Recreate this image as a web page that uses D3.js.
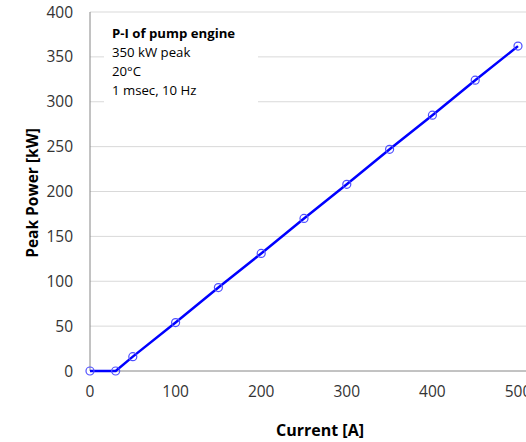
<!DOCTYPE html>
<html>
<head>
<meta charset="utf-8">
<script src="https://cdn.jsdelivr.net/npm/d3@7"></script>
<style>
  html, body { margin: 0; padding: 0; background: #fff; }
  svg { display: block; font-family: "Open Sans", "Noto Sans", sans-serif; }
</style>
</head>
<body>
<svg id="chart" width="526" height="442"></svg>
<script>
// Pump engine peak power versus drive current
const currents = [0, 30, 50, 100, 150, 200, 250, 300, 350, 400, 450, 500];
const peakPower = [0, 0, 16, 54, 93, 131, 170, 208, 247, 285, 324, 362];
const xTicks = [0, 100, 200, 300, 400, 500];
const yTicks = [0, 50, 100, 150, 200, 250, 300, 350, 400];
const noteLines = ["P-I of pump engine", "350 kW peak", "20°C", "1 msec, 10 Hz"];

const svg = d3.select("#chart");
const x = d3.scaleLinear().domain([0, 500]).range([90, 518]);
const y = d3.scaleLinear().domain([0, 400]).range([371, 12]);

// horizontal gridlines
svg.append("g").selectAll("line")
  .data(yTicks.filter(d => d > 0))
  .join("line")
  .attr("x1", x(0)).attr("x2", 526)
  .attr("y1", d => y(d)).attr("y2", d => y(d))
  .attr("stroke", "#d9d9d9").attr("stroke-width", 1);

// note box with white background
const note = svg.append("g");
note.append("rect")
  .attr("x", 104).attr("y", 16).attr("width", 154).attr("height", 88)
  .attr("fill", "#fff");
note.selectAll("text")
  .data(noteLines)
  .join("text")
  .attr("x", 112)
  .attr("y", (d, i) => 37.5 + i * 19.2)
  .attr("font-size", 13.2)
  .attr("font-weight", (d, i) => i === 0 ? "bold" : "normal")
  .attr("fill", "#000")
  .text(d => d);

// axes lines
svg.append("line")
  .attr("x1", x(0)).attr("x2", x(0)).attr("y1", y(400)).attr("y2", y(0))
  .attr("stroke", "#868686");
svg.append("line")
  .attr("x1", x(0)).attr("x2", 526).attr("y1", y(0)).attr("y2", y(0))
  .attr("stroke", "#868686");

// tick labels
svg.append("g").selectAll("text")
  .data(yTicks)
  .join("text")
  .attr("x", 73).attr("y", d => y(d))
  .attr("dy", "0.36em")
  .attr("text-anchor", "end")
  .attr("font-size", 15.5)
  .attr("fill", "#333")
  .text(d => d);
svg.append("g").selectAll("text")
  .data(xTicks)
  .join("text")
  .attr("x", d => x(d)).attr("y", 397)
  .attr("text-anchor", "middle")
  .attr("font-size", 15.5)
  .attr("fill", "#333")
  .text(d => d);

// axis titles
svg.append("text")
  .attr("x", 320).attr("y", 436)
  .attr("text-anchor", "middle")
  .attr("font-size", 16).attr("font-weight", "bold")
  .text("Current [A]");
svg.append("text")
  .attr("transform", "translate(38,193) rotate(-90)")
  .attr("text-anchor", "middle")
  .attr("font-size", 15.5).attr("font-weight", "bold")
  .text("Peak Power [kW]");

// series line and markers
const pts = currents.map((c, i) => [c, peakPower[i]]);
svg.append("path")
  .datum(pts)
  .attr("fill", "none")
  .attr("stroke", "#0000ff")
  .attr("stroke-width", 2.5)
  .attr("d", d3.line().x(d => x(d[0])).y(d => y(d[1])));
svg.append("g").selectAll("circle")
  .data(pts)
  .join("circle")
  .attr("cx", d => x(d[0])).attr("cy", d => y(d[1]))
  .attr("r", 4)
  .attr("fill", "none")
  .attr("stroke", "#4f4fff")
  .attr("stroke-width", 1.2);
</script>
</body>
</html>
